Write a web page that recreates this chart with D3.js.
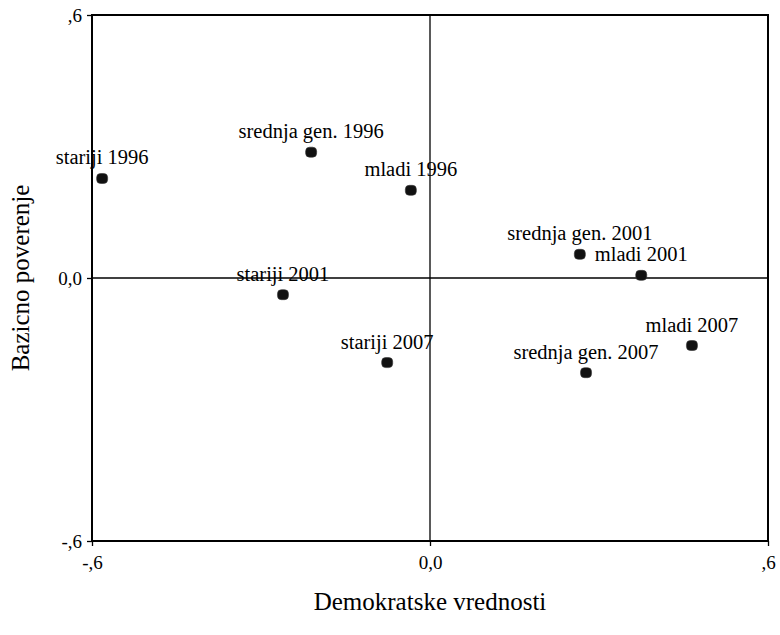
<!DOCTYPE html>
<html>
<head>
<meta charset="utf-8">
<script src="https://cdn.jsdelivr.net/npm/d3@7"></script>
<style>
  body { margin: 0; background: #fff; }
  svg text { font-family: "Liberation Serif", "Times New Roman", Times, "DejaVu Serif", serif !important; fill: #000; }
</style>
</head>
<body>
<svg id="chart"></svg>
<script>
const labels = ["stariji 1996", "srednja gen. 1996", "mladi 1996", "stariji 2001", "srednja gen. 2001",
  "mladi 2001", "stariji 2007", "srednja gen. 2007", "mladi 2007"];
const xValues = [-0.582, -0.211, -0.034, -0.261, 0.266, 0.375, -0.076, 0.277, 0.465];
const yValues = [0.227, 0.287, 0.200, -0.038, 0.054, 0.006, -0.193, -0.216, -0.154];
const tickValues = [-0.6, 0, 0.6];
const tickLabels = ["-,6", "0,0", ",6"];

const width = 780, height = 635;
const margin = { top: 15, right: 12, bottom: 94, left: 92 };
const chartWidth = width - margin.left - margin.right;
const chartHeight = height - margin.top - margin.bottom;
const serif = "'Liberation Serif', 'Times New Roman', Times, 'DejaVu Serif', serif";

const svg = d3.select("#chart").attr("width", width).attr("height", height);
const chart = svg.append("g").attr("transform", `translate(${margin.left},${margin.top})`);

const xScale = d3.scaleLinear().domain([-0.6, 0.6]).range([0, chartWidth]);
const yScale = d3.scaleLinear().domain([-0.6, 0.6]).range([chartHeight, 0]);

// Axes
const xAxis = d3.axisBottom(xScale).tickValues(tickValues).tickSize(5).tickPadding(10)
  .tickFormat((d, i) => tickLabels[i]);
const yAxis = d3.axisLeft(yScale).tickValues(tickValues).tickSize(5).tickPadding(5)
  .tickFormat((d, i) => tickLabels[i]);

const gx = chart.append("g").attr("transform", `translate(0,${chartHeight})`).call(xAxis);
const gy = chart.append("g").call(yAxis);
[gx, gy].forEach(g => {
  g.attr("font-family", serif);
  g.select(".domain").remove();
  g.selectAll("line").attr("stroke", "#000").attr("stroke-width", 1.3);
  g.selectAll("text").attr("font-size", "19px").attr("fill", "#000");
});

// Frame
chart.append("rect")
  .attr("x", 0).attr("y", 0)
  .attr("width", chartWidth).attr("height", chartHeight)
  .attr("fill", "none").attr("stroke", "#000").attr("stroke-width", 2);

// Zero reference lines
chart.append("line")
  .attr("x1", xScale(0)).attr("x2", xScale(0))
  .attr("y1", 0).attr("y2", chartHeight)
  .attr("stroke", "#000").attr("stroke-width", 1.3);
chart.append("line")
  .attr("x1", 0).attr("x2", chartWidth)
  .attr("y1", yScale(0)).attr("y2", yScale(0))
  .attr("stroke", "#000").attr("stroke-width", 1.3);

const data = labels.map((l, i) => ({ label: l, x: xValues[i], y: yValues[i] }));

// Points
chart.selectAll(".dot")
  .data(data)
  .enter()
  .append("rect")
  .attr("class", "dot")
  .attr("x", d => xScale(d.x) - 5.5)
  .attr("y", d => yScale(d.y) - 5)
  .attr("width", 11).attr("height", 10)
  .attr("rx", 4)
  .attr("fill", "#111")
  .attr("stroke", "#333").attr("stroke-width", 0.6);

// Point labels
chart.selectAll(".lbl")
  .data(data)
  .enter()
  .append("text")
  .attr("class", "lbl")
  .attr("x", d => xScale(d.x))
  .attr("y", d => yScale(d.y) - 14)
  .attr("text-anchor", "middle")
  .attr("font-family", serif)
  .attr("font-size", "20.5px")
  .text(d => d.label);

// Axis titles
svg.append("text")
  .attr("x", margin.left + chartWidth / 2)
  .attr("y", 610)
  .attr("text-anchor", "middle")
  .attr("font-family", serif)
  .attr("font-size", "25px")
  .text("Demokratske vrednosti");

svg.append("text")
  .attr("transform", `translate(29,${margin.top + chartHeight / 2}) rotate(-90)`)
  .attr("text-anchor", "middle")
  .attr("font-family", serif)
  .attr("font-size", "25px")
  .text("Bazicno poverenje");
</script>
</body>
</html>
